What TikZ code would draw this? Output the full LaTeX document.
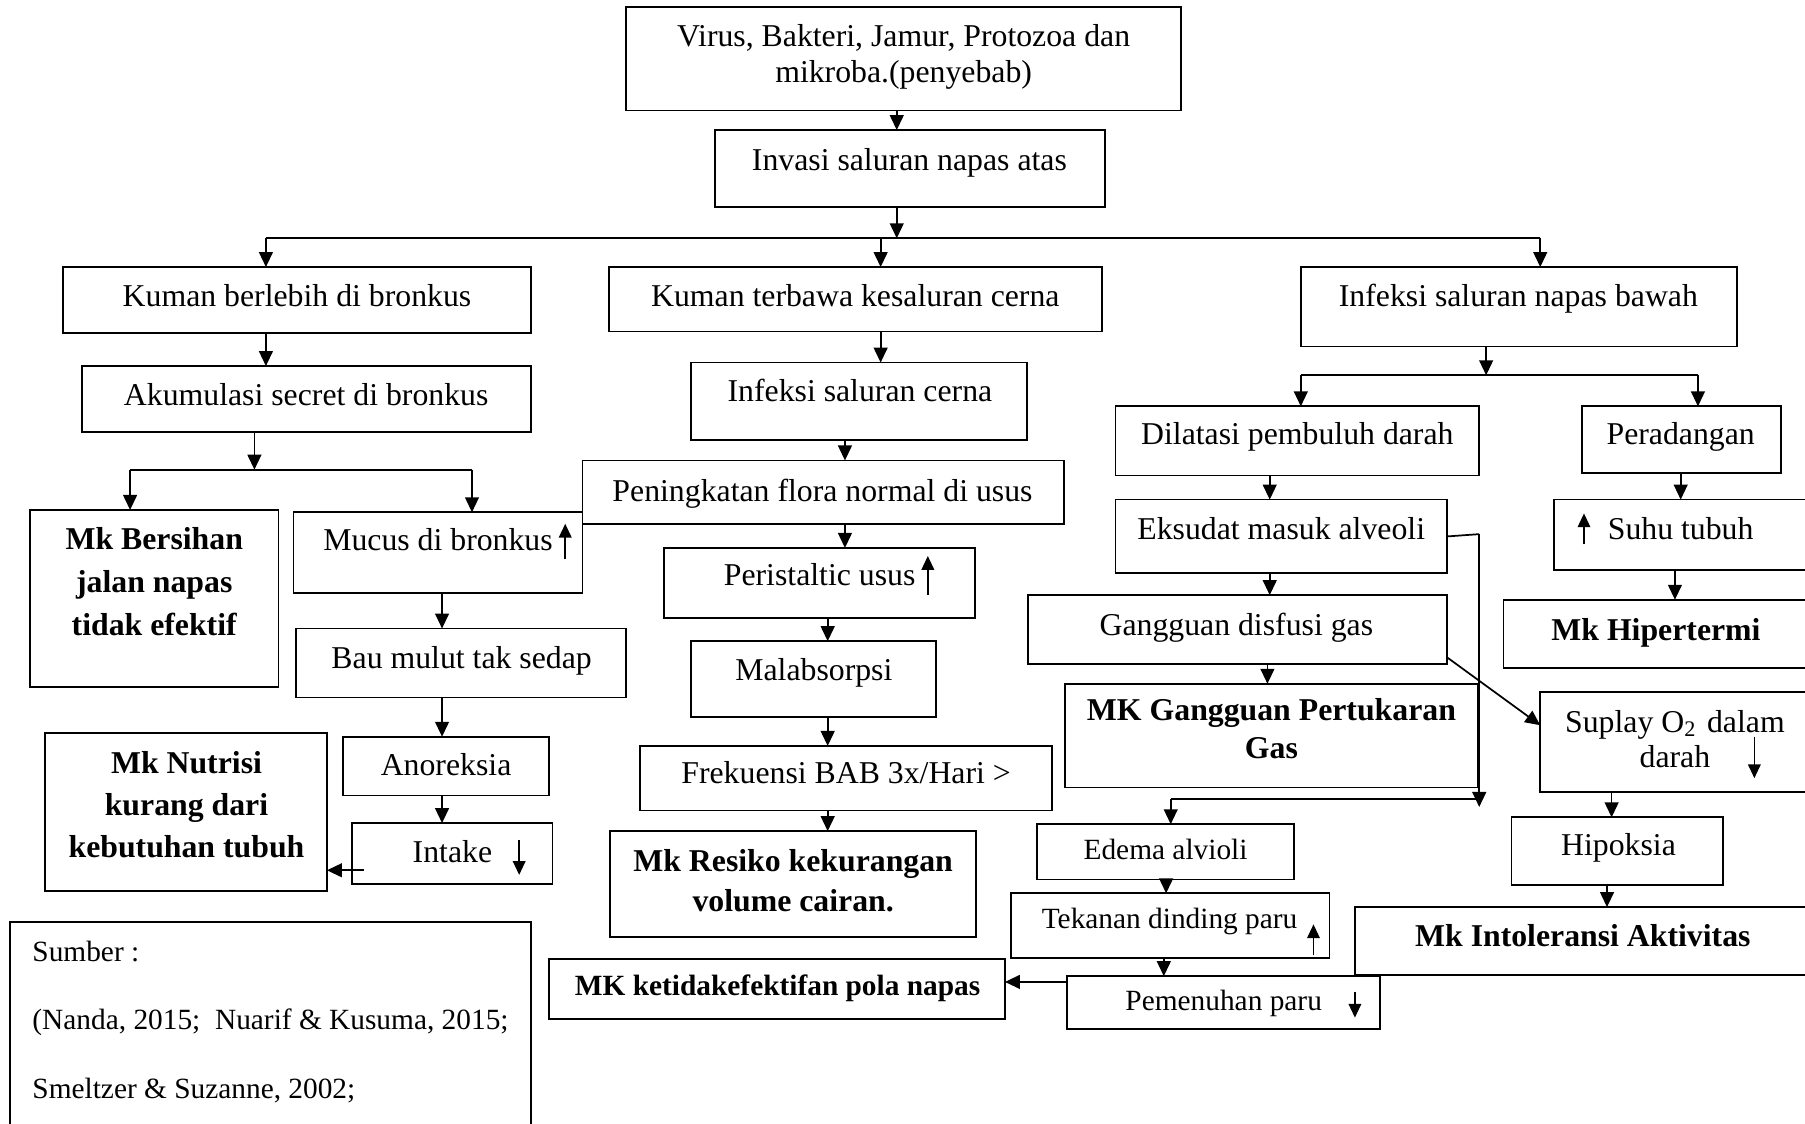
\documentclass[tikz,border=0pt]{standalone}
\usepackage{fontspec}
\setmainfont{Liberation Serif}
\usetikzlibrary{arrows.meta}
\newcommand{\bx}[5]{\node[box, minimum width={#4-#2}, minimum height={#5-#3}] (#1) at ({(#2+#4)/2},{(#3+#5)/2}) {};}
\tikzset{
  box/.style={draw, line width=1.5pt, inner sep=0pt, outer sep=0pt, rectangle},
  tl/.style={inner sep=0pt, anchor=base, font=\fontsize{27.6}{33}\selectfont},
  tls/.style={inner sep=0pt, anchor=base, font=\fontsize{25.5}{31}\selectfont},
  tlb/.style={tl, font=\fontsize{27.6}{33}\selectfont\bfseries},
  tm/.style={inner sep=0pt, anchor=center, align=center},
  arr/.style={line width=1.5pt, -{Triangle[length=13pt,width=12pt]}},
  ln/.style={line width=1.5pt},
  sarr/.style={line width=1.3pt, -{Triangle[length=12pt,width=11pt]}},
}
\begin{document}
\begin{tikzpicture}[x=1pt,y=-1pt]
\useasboundingbox (0,0) rectangle (1568,976);
\fill[white] (0,0) rectangle (1568,976);
\clip (0,0) rectangle (1568,976);
% boxes
\bx{virus}{544}{6}{1026}{96}
\bx{invasi}{621}{113}{960}{180}
\bx{kb}{55}{232}{461}{289}
\bx{kt}{529}{232}{957}{288}
\bx{ib}{1130}{232}{1509}{301}
\bx{akum}{71}{318}{461}{375}
\bx{ic}{600}{315}{892}{382}
\bx{dil}{969}{353}{1285}{413}
\bx{per}{1374}{353}{1547}{411}
\bx{bers}{26}{443}{242}{597}
\bx{mucus}{255}{445}{506}{515}
\bx{flora}{506}{400}{924}{455}
\bx{peris}{577}{476}{847}{537}
\bx{malab}{600}{557}{813}{623}
\bx{frek}{556}{648}{914}{704}
\bx{resiko}{530}{722}{848}{814}
\bx{bau}{257}{546}{544}{606}
\bx{anor}{298}{640}{477}{691}
\bx{intake}{306}{715}{480}{768}
\bx{nutrisi}{39}{637}{284}{774}
\bx{sumber}{9}{801}{461}{1000}
\bx{eks}{969}{434}{1257}{498}
\bx{gdg}{893}{517}{1257}{577}
\bx{mkgg}{925}{594}{1284}{684}
\bx{suplay}{1338}{601}{1590}{688}
\bx{suhu}{1350}{434}{1590}{495}
\bx{hiper}{1306}{521}{1590}{580}
\bx{hipok}{1313}{710}{1497}{769}
\bx{intol}{1177}{788}{1590}{847}
\bx{edema}{901}{716}{1124}{764}
\bx{tekan}{878}{776}{1155}{832}
\bx{pemen}{927}{848}{1199}{894}
\bx{pola}{477}{833}{873}{885}
% texts
\node[tm, font=\fontsize{27.6}{32}\selectfont] (tvirus) at (785,49.6) {\strut Virus, Bakteri, Jamur, Protozoa dan\\\strut mikroba.(penyebab)};
\node[tl] (tinvasi) at (790,148) {Invasi saluran napas atas};
\node[tl] (tkb) at (258,266) {Kuman berlebih di bronkus};
\node[tl] (tkt) at (743,266) {Kuman terbawa kesaluran cerna};
\node[tl] (tib) at (1319,266) {Infeksi saluran napas bawah};
\node[tl] (takum) at (266,352) {Akumulasi secret di bronkus};
\node[tl] (tic) at (747,349) {Infeksi saluran cerna};
\node[tl] (tdil) at (1127,386) {Dilatasi pembuluh darah};
\node[tl] (tper) at (1460,386) {Peradangan};
\node[tm, font=\fontsize{27.6}{37.5}\selectfont\bfseries] (tbers) at (134,507) {\strut Mk Bersihan\\\strut jalan napas\\\strut tidak efektif};
\node[tl] (tmucus) at (380.5,478) {Mucus di bronkus};
\node[tl] (tflora) at (714.5,436) {Peningkatan flora normal di usus};
\node[tl] (tperis) at (712,509) {Peristaltic usus};
\node[tl] (tmalab) at (707,591) {Malabsorpsi};
\node[tl] (tfrek) at (735,681) {Frekuensi BAB 3x/Hari >};
\node[tm, font=\fontsize{27.6}{35}\selectfont\bfseries] (tresiko) at (689,767.5) {\strut Mk Resiko kekurangan\\\strut volume cairan.};
\node[tl] (tbau) at (401,581) {Bau mulut tak sedap};
\node[tl] (tanor) at (387.5,674) {Anoreksia};
\node[tl] (tintake) at (393,749) {Intake};
\node[tm, font=\fontsize{27.6}{36.5}\selectfont\bfseries] (tnutrisi) at (162,701) {\strut Mk Nutrisi\\\strut kurang dari\\\strut kebutuhan tubuh};
\node[tm, align=left, anchor=west, font=\fontsize{25.5}{59.5}\selectfont] (tsumber) at (28,882.7) {\strut Sumber :\\\strut (Nanda, 2015;\ \ Nuarif \& Kusuma, 2015;\\\strut Smeltzer \& Suzanne, 2002;};
\node[tl] (teks) at (1113,469) {Eksudat masuk alveoli};
\node[tl] (tgdg) at (1074,552) {Gangguan disfusi gas};
\node[tm, font=\fontsize{27.6}{33}\selectfont\bfseries] (tmkgg) at (1104.5,636) {\strut MK Gangguan Pertukaran\\\strut Gas};
\node[tm, font=\fontsize{27.6}{31}\selectfont] (tsuplay) at (1455,645.3) {\strut Suplay O\textsubscript{2}\hspace{0.35em}dalam\\\strut darah};
\node[tl] (tsuhu) at (1460,469) {Suhu tubuh};
\node[tlb] (thiper) at (1438.5,556) {Mk Hipertermi};
\node[tl] (thipok) at (1406,743) {Hipoksia};
\node[tlb] (tintol) at (1375,822) {Mk Intoleransi Aktivitas};
\node[tls] (tedema) at (1012.5,747) {Edema alvioli};
\node[tls] (ttekan) at (1016,807) {Tekanan dinding paru};
\node[tls] (tpemen) at (1063,878) {Pemenuhan paru};
\node[tls, font=\fontsize{25.5}{31}\selectfont\bfseries] (tpola) at (675.5,865) {MK ketidakefektifan pola napas};
% small in-text arrows
\draw[sarr] (491,486) -- (491,455);
\draw[sarr] (806,517) -- (806,483);
\draw[sarr] (1376,473) -- (1376,446);
\draw[sarr] (451,730) -- (451,760);
\draw[sarr] (1524,640) -- (1524,676);
\draw[sarr] (1141,830) -- (1141,803);
\draw[sarr] (1177,862) -- (1177,884);
% junction coordinates
\coordinate (j1) at (779,207);
\coordinate (j1l) at (231,207);
\coordinate (j1m) at (765,207);
\coordinate (j1r) at (1338,207);
\coordinate (j2) at (1291,326);
\coordinate (j2l) at (1130,326);
\coordinate (j2r) at (1475,326);
\coordinate (j3) at (221,408);
\coordinate (j3l) at (113,408);
\coordinate (j3r) at (410,408);
\coordinate (k1) at (1285,464);
\coordinate (k2) at (1285,701);
\coordinate (k3) at (1285,694);
\coordinate (k4) at (1017,694);
% connectors
\draw[arr] (779,0 |- virus.south) -- (779,0 |- invasi.north);
\draw[arr] (779,0 |- invasi.south) -- (j1);
\draw[ln] (j1l) -- (j1r);
\draw[arr] (j1l) -- (231,0 |- kb.north);
\draw[arr] (j1m) -- (765,0 |- kt.north);
\draw[arr] (j1r) -- (1338,0 |- ib.north);
\draw[arr] (231,0 |- kb.south) -- (231,0 |- akum.north);
\draw[arr] (765,0 |- kt.south) -- (765,0 |- ic.north);
\draw[arr] (1291,0 |- ib.south) -- (j2);
\draw[ln] (j2l) -- (j2r);
\draw[arr] (j2l) -- (1130,0 |- dil.north);
\draw[arr] (j2r) -- (1475,0 |- per.north);
\draw[arr] (221,0 |- akum.south) -- (j3);
\draw[ln] (j3l) -- (j3r);
\draw[arr] (j3l) -- (113,0 |- bers.north);
\draw[arr] (j3r) -- (410,0 |- mucus.north);
\draw[arr] (384,0 |- mucus.south) -- (384,0 |- bau.north);
\draw[arr] (384,0 |- bau.south) -- (384,0 |- anor.north);
\draw[arr] (384,0 |- anor.south) -- (384,0 |- intake.north);
\draw[arr] (316,756) -- (284,756 -| nutrisi.east);
\draw[arr] (734,0 |- ic.south) -- (734,0 |- flora.north);
\draw[arr] (734,0 |- flora.south) -- (734,0 |- peris.north);
\draw[arr] (719,0 |- peris.south) -- (719,0 |- malab.north);
\draw[arr] (719,0 |- malab.south) -- (719,0 |- frek.north);
\draw[arr] (719,0 |- frek.south) -- (719,0 |- resiko.north);
\draw[arr] (1103,0 |- dil.south) -- (1103,0 |- eks.north);
\draw[arr] (1103,0 |- eks.south) -- (1103,0 |- gdg.north);
\draw[arr] (1101,0 |- gdg.south) -- (1101,0 |- mkgg.north);
\draw[ln] (eks.east) -- (k1);
\draw[arr] (k1) -- (k2);
\draw[ln] (k3) -- (k4);
\draw[arr] (k4) -- (1017,0 |- edema.north);
\draw[arr] ([yshift=6pt]gdg.south east) -- (1338,630);
\draw[arr] (1460,0 |- per.south) -- (1460,0 |- suhu.north);
\draw[arr] (1455,0 |- suhu.south) -- (1455,0 |- hiper.north);
\draw[arr] (1400,0 |- suplay.south) -- (1400,0 |- hipok.north);
\draw[arr] (1396,0 |- hipok.south) -- (1396,0 |- intol.north);
\draw[arr] (1013,0 |- edema.south) -- (1013,0 |- tekan.north);
\draw[arr] (1011,0 |- tekan.south) -- (1011,0 |- pemen.north);
\draw[arr] (927,853) -- (873,853 -| pola.east);
\end{tikzpicture}
\end{document}
